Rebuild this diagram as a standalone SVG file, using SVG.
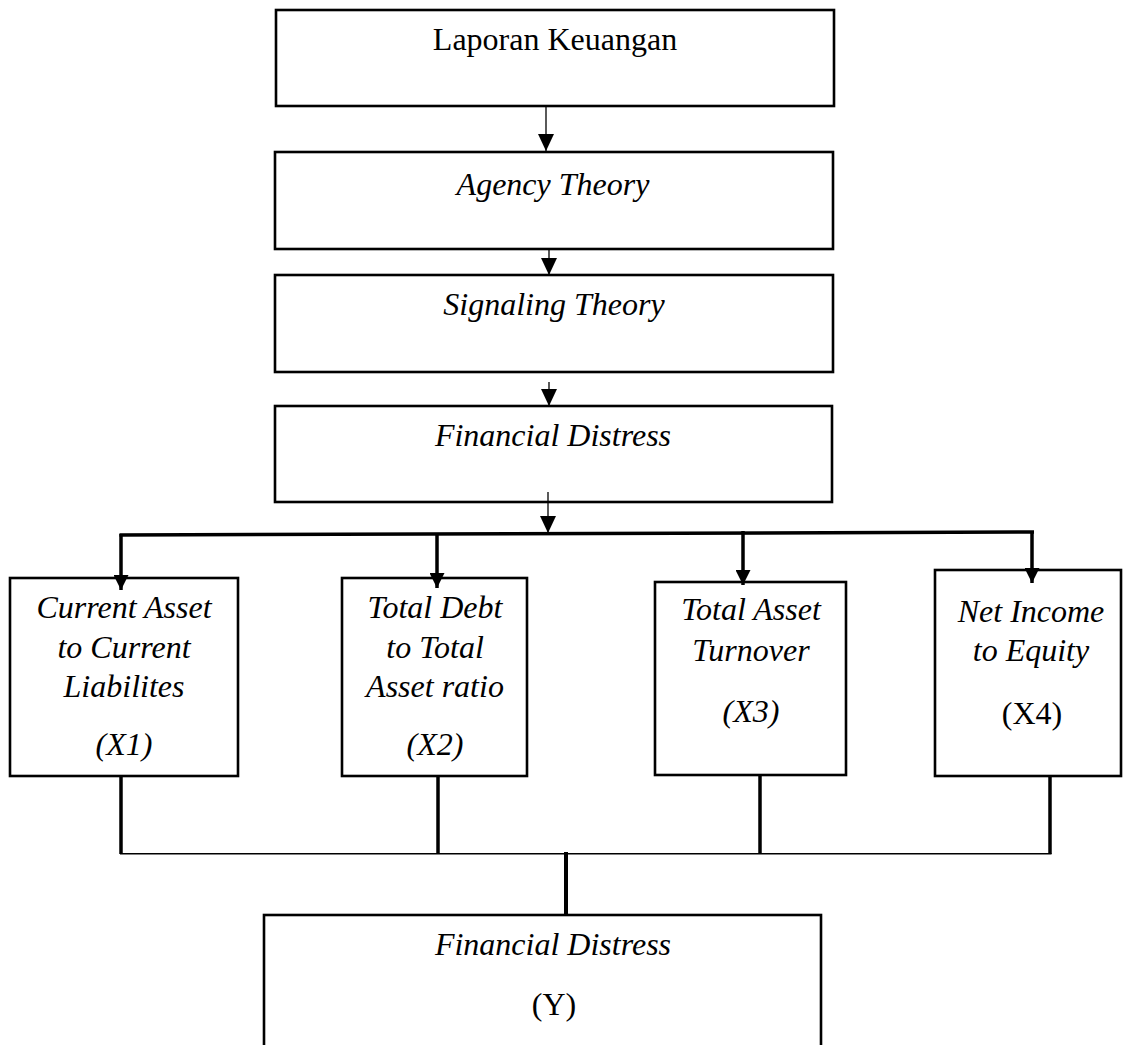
<svg xmlns="http://www.w3.org/2000/svg" width="1125" height="1045" viewBox="0 0 1125 1045">
<style>
.box{fill:#fff;stroke:#000;stroke-width:2.6}
.t{font-family:"Liberation Serif","Times New Roman",serif;font-size:32px;fill:#000;text-anchor:middle}
.i{font-style:italic}
.thin{stroke:#000;stroke-width:1.3;fill:none}
.thick{stroke:#000;stroke-width:3.5;fill:none}
.bus{stroke:#000;stroke-width:1.6;fill:none}
</style>
<defs>
<marker id="ah" markerUnits="userSpaceOnUse" viewBox="0 0 17 16" markerWidth="17" markerHeight="16" refX="17" refY="8" orient="auto">
<path d="M0,0 L17,8 L0,16 z" fill="#000"/>
</marker>
<marker id="ahk" markerUnits="userSpaceOnUse" viewBox="0 0 15 15" markerWidth="15" markerHeight="15" refX="15" refY="7.5" orient="auto">
<path d="M0,0 L15,7.5 L0,15 z" fill="#000"/>
</marker>
</defs>
<g id="n-laporan"><rect class="box" x="276" y="10" width="558" height="96"/><text class="t" x="555" y="50">Laporan Keuangan</text></g>
<g id="n-agency"><rect class="box" x="275" y="152" width="558" height="97"/><text class="t i" x="553" y="195">Agency Theory</text></g>
<g id="n-signaling"><rect class="box" x="275" y="275" width="558" height="97"/><text class="t i" x="554" y="315">Signaling Theory</text></g>
<g id="n-fd"><rect class="box" x="275" y="406" width="557" height="96"/><text class="t i" x="553" y="446">Financial Distress</text></g>
<g id="n-x1"><rect class="box" x="10" y="578" width="228" height="198"/>
<text class="t i" x="124" y="618">Current Asset</text><text class="t i" x="124" y="658">to Current</text><text class="t i" x="124" y="697">Liabilites</text><text class="t i" x="124" y="755">(X1)</text></g>
<g id="n-x2"><rect class="box" x="342" y="578" width="185" height="198"/>
<text class="t i" x="435" y="618">Total Debt</text><text class="t i" x="435" y="658">to Total</text><text class="t i" x="435" y="697">Asset ratio</text><text class="t i" x="435" y="755">(X2)</text></g>
<g id="n-x3"><rect class="box" x="655" y="582" width="191" height="193"/>
<text class="t i" x="751" y="620">Total Asset</text><text class="t i" x="751" y="661">Turnover</text><text class="t i" x="751" y="722">(X3)</text></g>
<g id="n-x4"><rect class="box" x="935" y="570" width="186" height="206"/>
<text class="t i" x="1031" y="622">Net Income</text><text class="t i" x="1031" y="661">to Equity</text><text class="t" x="1032" y="724">(X4)</text></g>
<g id="n-y"><rect class="box" x="264" y="915" width="557" height="150"/>
<text class="t i" x="553" y="955">Financial Distress</text><text class="t" x="554" y="1015">(Y)</text></g>
<g id="connectors">
<line class="thin" x1="546" y1="106" x2="546" y2="151" marker-end="url(#ah)"/>
<line class="thin" x1="549" y1="249" x2="549" y2="275" marker-end="url(#ah)"/>
<line class="thin" x1="549" y1="382" x2="549" y2="406" marker-end="url(#ah)"/>
<line class="thin" x1="548" y1="492" x2="548" y2="533" marker-end="url(#ah)"/>
<line class="thick" x1="119.5" y1="535" x2="1034" y2="532"/>
<line class="thick" x1="121" y1="534" x2="121" y2="590" marker-end="url(#ahk)"/>
<line class="thick" x1="437" y1="533" x2="437" y2="588" marker-end="url(#ahk)"/>
<line class="thick" x1="743" y1="531" x2="743" y2="585" marker-end="url(#ahk)"/>
<line class="thick" x1="1032" y1="531" x2="1032" y2="583" marker-end="url(#ahk)"/>
<line class="thick" x1="121" y1="776" x2="121" y2="854"/>
<line class="thick" x1="438" y1="776" x2="438" y2="853"/>
<line class="thick" x1="760" y1="775" x2="760" y2="853"/>
<line class="thick" x1="1050" y1="777" x2="1050" y2="854"/>
<line class="bus" x1="120" y1="853.8" x2="1051.5" y2="853.8"/>
<line class="thick" x1="566" y1="852" x2="566" y2="915" style="stroke-width:4"/>
</g>
</svg>
